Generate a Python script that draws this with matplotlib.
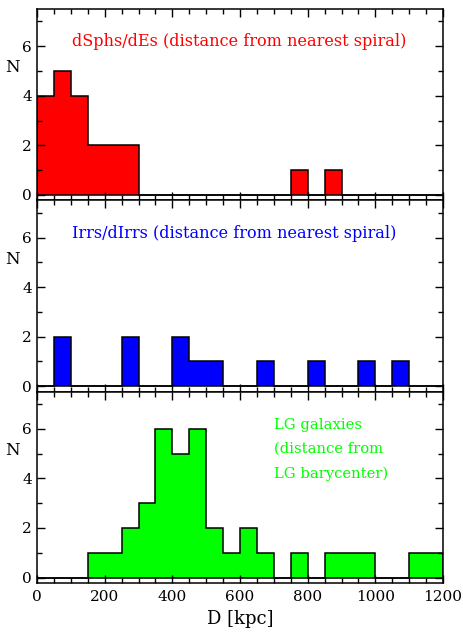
import numpy as np
from matplotlib import pyplot as plt
from matplotlib.ticker import MultipleLocator

# bin edges 0..1200 kpc, 50 kpc bins
binEdges = np.arange(0, 1201, 50)
# counts per bin
dsphCounts = [4, 5, 4, 2, 2, 2, 0, 0, 0, 0, 0, 0, 0, 0, 0, 1, 0, 1, 0, 0, 0, 0, 0, 0]
irrCounts = [0, 2, 0, 0, 0, 2, 0, 0, 2, 1, 1, 0, 0, 1, 0, 0, 1, 0, 0, 1, 0, 1, 0, 0]
lgCounts = [0, 0, 0, 1, 1, 2, 3, 6, 5, 6, 2, 1, 2, 1, 0, 1, 0, 1, 1, 1, 0, 0, 1, 1]

panelList = [
    (dsphCounts, 'red', 'dSphs/dEs (distance from nearest spiral)', 103, 6.18, 11.6),
    (irrCounts, 'blue', 'Irrs/dIrrs (distance from nearest spiral)', 103, 6.18, 11.6),
    (lgCounts, '#00ff00', 'LG galaxies\n(distance from\nLG barycenter)', 700, 6.45, 10.6),
]

plt.rcParams['font.family'] = 'DejaVu Serif'
fig = plt.figure(figsize=(4.64, 6.33), dpi=100)
left, right, top, bottom = 37 / 464, 443 / 464, 1 - 9 / 633, 1 - 583 / 633
h = (top - bottom) / 3

for i, (counts, col, label, tx, ty, fs) in enumerate(panelList):
    ax = fig.add_axes([left, top - (i + 1) * h, right - left, h])
    ax.stairs(counts, binEdges, fill=True, color=col, linewidth=0)
    ax.stairs(counts, binEdges, color='black', linewidth=1.1, baseline=0)
    ax.axhline(0, color='black', linewidth=1.1)
    ax.set_xlim(0, 1200)
    ax.set_ylim(-0.22, 7.5)
    ax.xaxis.set_major_locator(MultipleLocator(200))
    ax.xaxis.set_minor_locator(MultipleLocator(50))
    ax.yaxis.set_major_locator(MultipleLocator(2))
    ax.yaxis.set_minor_locator(MultipleLocator(1))
    ax.tick_params(which='both', direction='in', top=True, right=True, width=1.0,
                   labelsize=11)
    ax.tick_params(which='major', length=6)
    ax.tick_params(which='minor', length=3.5)
    ax.tick_params(axis='x', pad=5)
    for s in ax.spines.values():
        s.set_linewidth(1.1)
    ax.set_ylabel('N', rotation=0, fontsize=12)
    ax.yaxis.set_label_coords(-0.06, 5.0 / 7.72)
    if i < 2:
        ax.set_xticklabels([])
    else:
        ax.set_xlabel('D [kpc]', fontsize=13, labelpad=4)
    ax.text(tx, ty, label, color=col, fontsize=fs,
            va='top' if i == 2 else 'center', ha='left', linespacing=1.95)

plt.savefig('out.png', dpi=100)
